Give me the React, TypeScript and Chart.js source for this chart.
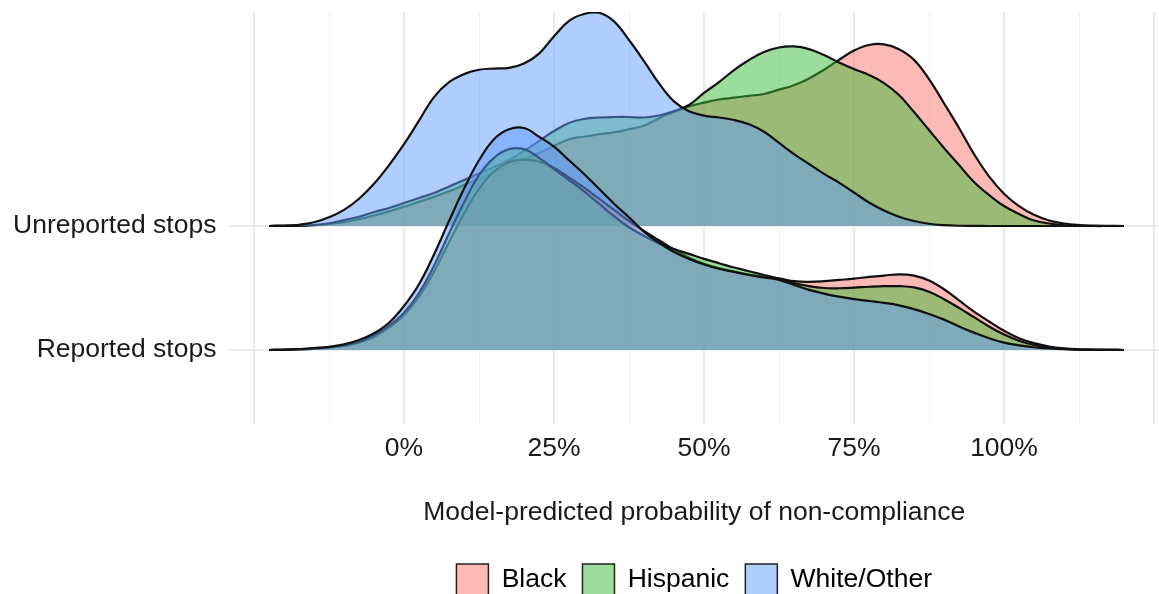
import React, { useEffect, useRef } from 'react';
import { Chart, registerables } from 'chart.js';

Chart.register(...registerables);

// x positions (percent) at which the densities are sampled
const xGrid = [
  -22.5, -20, -17.5, -15, -12.5, -10, -7.5, -5, -2.5, 0, 2.5, 5, 7.5, 10, 12.5, 15, 17.5, 20,
  22.5, 25, 27.5, 30, 32.5, 35, 37.5, 40, 42.5, 45, 47.5, 50, 52.5, 55, 57.5, 60, 62.5, 65,
  67.5, 70, 72.5, 75, 77.5, 80, 82.5, 85, 87.5, 90, 92.5, 95, 97.5, 100, 102.5, 105, 107.5,
  110, 112.5, 115, 117.5, 120,
];

// Ridge heights (above each ridge's baseline)
const unreportedBlack = [
  0, 0.001, 0.002, 0.006, 0.016, 0.032, 0.055, 0.085, 0.118, 0.155, 0.195, 0.235, 0.28, 0.33,
  0.38, 0.43, 0.48, 0.535, 0.59, 0.645, 0.7, 0.72, 0.74, 0.755, 0.78, 0.81, 0.87, 0.92, 0.965,
  0.995, 1.02, 1.035, 1.05, 1.065, 1.1, 1.135, 1.19, 1.26, 1.34, 1.415, 1.46, 1.465, 1.425,
  1.34, 1.185, 0.99, 0.79, 0.58, 0.4, 0.26, 0.16, 0.09, 0.045, 0.02, 0.008, 0.003, 0.001, 0,
];
const unreportedHispanic = [
  0, 0.001, 0.003, 0.008, 0.022, 0.048, 0.075, 0.113, 0.145, 0.185, 0.226, 0.266, 0.319, 0.371,
  0.423, 0.476, 0.532, 0.605, 0.685, 0.766, 0.831, 0.863, 0.875, 0.879, 0.879, 0.875, 0.891,
  0.927, 0.976, 1.073, 1.161, 1.258, 1.339, 1.403, 1.44, 1.448, 1.427, 1.379, 1.319, 1.266,
  1.218, 1.153, 1.056, 0.919, 0.774, 0.629, 0.492, 0.355, 0.25, 0.161, 0.097, 0.044, 0.02,
  0.006, 0.002, 0, 0, 0,
];
const unreportedWhite = [
  0, 0.002, 0.01, 0.03, 0.07, 0.13, 0.22, 0.34, 0.49, 0.66, 0.85, 1.04, 1.16, 1.225, 1.26,
  1.27, 1.275, 1.31, 1.39, 1.53, 1.655, 1.71, 1.72, 1.65, 1.5, 1.33, 1.15, 1.005, 0.925, 0.89,
  0.875, 0.855, 0.82, 0.76, 0.67, 0.58, 0.5, 0.42, 0.35, 0.27, 0.19, 0.125, 0.075, 0.04, 0.018,
  0.007, 0.002, 0.001, 0, 0, 0, 0, 0, 0, 0, 0, 0, 0,
];
const reportedBlack = [
  0, 0.001, 0.004, 0.009, 0.018, 0.032, 0.058, 0.105, 0.18, 0.28, 0.43, 0.63, 0.87, 1.1, 1.3,
  1.44, 1.515, 1.535, 1.52, 1.47, 1.39, 1.31, 1.22, 1.13, 1.04, 0.96, 0.885, 0.81, 0.745, 0.695,
  0.66, 0.632, 0.608, 0.59, 0.578, 0.555, 0.55, 0.555, 0.565, 0.575, 0.59, 0.6, 0.61, 0.6,
  0.56, 0.49, 0.4, 0.31, 0.23, 0.155, 0.095, 0.055, 0.028, 0.013, 0.006, 0.003, 0.001, 0,
];
const reportedHispanic = [
  0, 0.002, 0.006, 0.012, 0.021, 0.038, 0.066, 0.12, 0.195, 0.3, 0.46, 0.68, 0.94, 1.19, 1.41,
  1.55, 1.62, 1.62, 1.55, 1.46, 1.37, 1.28, 1.18, 1.08, 0.99, 0.92, 0.86, 0.815, 0.775, 0.735,
  0.7, 0.665, 0.635, 0.605, 0.575, 0.54, 0.515, 0.5, 0.498, 0.503, 0.51, 0.515, 0.515, 0.505,
  0.47, 0.41, 0.34, 0.265, 0.19, 0.125, 0.075, 0.04, 0.02, 0.009, 0.004, 0.002, 0.001, 0,
];
const reportedWhite = [
  0, 0.003, 0.008, 0.016, 0.025, 0.045, 0.08, 0.135, 0.22, 0.355, 0.53, 0.77, 1.04, 1.3, 1.53,
  1.7, 1.78, 1.79, 1.72, 1.64, 1.53, 1.42, 1.3, 1.18, 1.07, 0.955, 0.865, 0.79, 0.735, 0.69,
  0.655, 0.63, 0.605, 0.585, 0.565, 0.525, 0.485, 0.455, 0.43, 0.41, 0.395, 0.38, 0.36, 0.33,
  0.29, 0.245, 0.19, 0.14, 0.095, 0.06, 0.038, 0.022, 0.012, 0.006, 0.003, 0.001, 0.0005, 0,
];

const ridgeLabels = ['Reported stops', 'Unreported stops'];
const groupNames = ['Black', 'Hispanic', 'White/Other'];
const groupFills = ['rgba(248,118,109,0.5)', 'rgba(60,187,56,0.5)', 'rgba(97,156,255,0.5)'];

const xTickValues = [-25, -12.5, 0, 12.5, 25, 37.5, 50, 62.5, 75, 87.5, 100, 112.5, 125];
const xTickLabels = ['', '', '0%', '', '25%', '', '50%', '', '75%', '', '100%', '', ''];

const FONT = "'Liberation Sans', Arial, sans-serif";
const FS = 26.5;
const TEXT = '#1a1a1a';

export default function App() {
  const ref = useRef<HTMLCanvasElement>(null);

  useEffect(() => {
    const canvas = ref.current;
    if (!canvas) return;

    const series = [
      { vals: unreportedBlack, base: 1, g: 0 },
      { vals: unreportedHispanic, base: 1, g: 1 },
      { vals: unreportedWhite, base: 1, g: 2 },
      { vals: reportedBlack, base: 0, g: 0 },
      { vals: reportedHispanic, base: 0, g: 1 },
      { vals: reportedWhite, base: 0, g: 2 },
    ];

    const datasets = series.map((s, i) => ({
      label: `${ridgeLabels[s.base]} - ${groupNames[s.g]}`,
      data: s.vals.map((v, k) => ({ x: xGrid[k], y: s.base + v })),
      borderColor: '#111111',
      borderWidth: 2.2,
      backgroundColor: groupFills[s.g],
      fill: { value: s.base },
      pointRadius: 0,
      pointHoverRadius: 0,
      tension: 0.4,
      order: series.length - i,
    }));

    const chart = new Chart(canvas, {
      type: 'line',
      data: { datasets },
      options: {
        animation: false,
        responsive: false,
        devicePixelRatio: 1,
        events: [],
        layout: { padding: { top: 12, right: 0, bottom: 0, left: 0 } },
        plugins: {
          tooltip: { enabled: false },
          legend: {
            position: 'bottom',
            fullSize: false,
            labels: {
              font: { family: FONT, size: FS },
              color: TEXT,
              boxWidth: 32,
              boxHeight: 32,
              padding: 16,
              generateLabels: () =>
                groupNames.map((name, i) => ({
                  text: name,
                  fillStyle: groupFills[i],
                  strokeStyle: '#222222',
                  lineWidth: 1.5,
                  hidden: false,
                  datasetIndex: i,
                })),
            },
          },
        },
        scales: {
          x: {
            type: 'linear',
            min: -29.1,
            max: 125.83,
            afterBuildTicks: (scale: any) => {
              scale.ticks = xTickValues.map((v) => ({ value: v }));
            },
            afterFit: (scale: any) => {
              scale.height = 123.6;
              scale.paddingLeft = 0;
              scale.paddingRight = 0;
            },
            ticks: {
              autoSkip: false,
              maxRotation: 0,
              padding: 8.2,
              color: TEXT,
              font: { family: FONT, size: FS },
              callback: (value: any) => {
                const idx = xTickValues.indexOf(Number(value));
                return idx >= 0 ? xTickLabels[idx] : '';
              },
            },
            grid: {
              drawTicks: false,
              color: (ctx: any) =>
                ctx.tick && ctx.tick.value % 25 === 0 ? '#e8e8e8' : '#f0f0f0',
              lineWidth: (ctx: any) => (ctx.tick && ctx.tick.value % 25 === 0 ? 1.8 : 1),
            },
            border: { display: false },
            title: {
              display: true,
              text: 'Model-predicted probability of non-compliance',
              color: TEXT,
              font: { family: FONT, size: FS },
              padding: { top: 24.5, bottom: 19.1 },
            },
          },
          y: {
            type: 'linear',
            min: -0.6,
            max: 2.726,
            afterBuildTicks: (scale: any) => {
              scale.ticks = [{ value: 0 }, { value: 1 }];
            },
            afterFit: (scale: any) => {
              scale.width = 229.4;
              scale.paddingTop = 0;
              scale.paddingBottom = 0;
            },
            ticks: {
              padding: 13,
              color: TEXT,
              font: { family: FONT, size: FS },
              callback: (value: any) => ridgeLabels[Number(value)] ?? '',
            },
            grid: {
              drawTicks: false,
              color: '#e8e8e8',
              lineWidth: 1.8,
            },
            border: { display: false },
          },
        },
      },
    });

    return () => chart.destroy();
  }, []);

  return (
    <div
      style={{
        position: 'fixed',
        left: 0,
        top: 0,
        width: 1159,
        height: 594,
        overflow: 'hidden',
        background: '#ffffff',
      }}
    >
      <canvas ref={ref} width={1159} height={606} style={{ display: 'block' }} />
    </div>
  );
}
